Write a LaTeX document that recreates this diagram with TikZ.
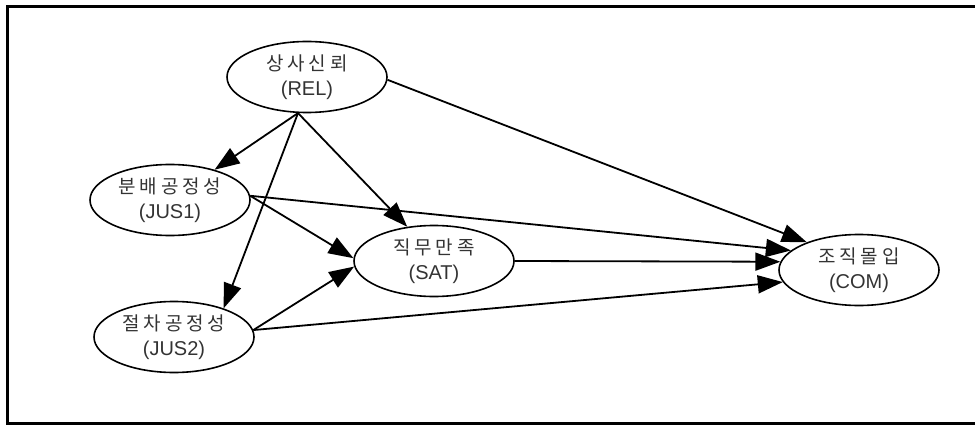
\documentclass[tikz,border=0pt]{standalone}
\usepackage{fontspec}
\setmainfont{Liberation Sans}
\newfontfamily\kr[LetterSpace=20]{Noto Sans CJK KR}
\usetikzlibrary{shapes.geometric,arrows.meta}
\begin{document}
\begin{tikzpicture}[x=1pt,y=-1pt,
  var/.style={ellipse,draw,line width=1.6pt,inner sep=0pt,
    minimum width=160pt,minimum height=71pt,align=center,
    text=black!80,font=\fontsize{20}{25}\selectfont},
  kor/.style={},
  path/.style={draw,line width=1.8pt,-{Triangle[length=25pt,width=18pt]}}]
\useasboundingbox (0,0) rectangle (975,425);
\draw[line width=3pt] (975,7) -- (7,7) -- (7,423) -- (975,423);
\node[var] (rel)  at (307,77)  {{\kr\fontsize{19}{25}\selectfont 상사신뢰}\\(REL)};
\node[var] (jus1) at (170,200) {{\kr\fontsize{19}{25}\selectfont 분배공정성}\\(JUS1)};
\node[var] (jus2) at (174,337) {{\kr\fontsize{19}{25}\selectfont 절차공정성}\\(JUS2)};
\node[var] (sat)  at (434,261) {{\kr\fontsize{19}{25}\selectfont 직무만족}\\(SAT)};
\node[var] (com)  at (859,270) {{\kr\fontsize{19}{25}\selectfont 조직몰입}\\(COM)};
\path[path] (rel.256) -- (jus1);
\path[path] (rel.256) -- (jus2.30);
\path[path] (rel.256) -- (sat.128);
\path[path] (rel.358) -- (com.152);
\path[path] (jus1.3) -- (sat.178);
\path[path] (jus1.3) -- (com.164);
\path[path] (sat.east) -- (com.174);
\path[path] (jus2.5) -- (sat.184);
\path[path] (jus2.5) -- (com.189);
\end{tikzpicture}
\end{document}
